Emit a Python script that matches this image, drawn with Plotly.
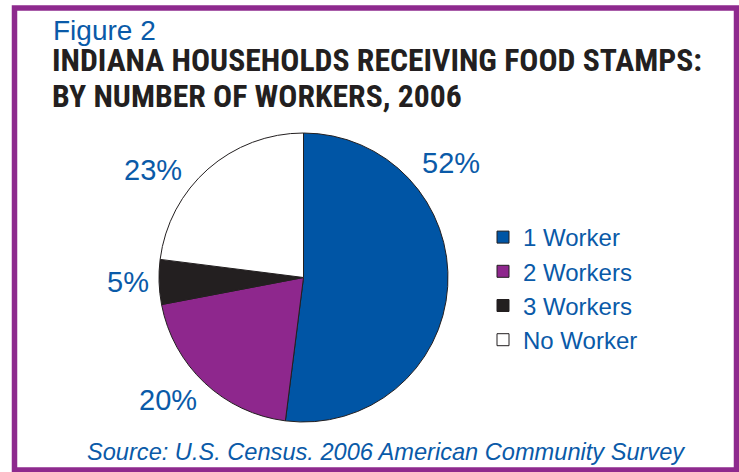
import plotly.graph_objects as go

# data
categories = ['1 Worker', '2 Workers', '3 Workers', 'No Worker']
shares = [52, 20, 5, 23]
slice_colors = ['#0055a5', '#8e278d', '#231f20', '#ffffff']

title_lines = ['INDIANA HOUSEHOLDS RECEIVING FOOD STAMPS:', 'BY NUMBER OF WORKERS, 2006']
source_note = 'Source: U.S. Census. 2006 American Community Survey'

# label centres, in reference pixels
label_pos = [(451, 163), (168, 400), (128, 282), (153, 170)]

BLUE = '#0a5aa8'
PURPLE = '#8e2a8e'
W, H = 739, 472


def px(x):
    return x / W


def py(y):
    return 1 - y / H


fig = go.Figure()

fig.add_trace(go.Pie(
    labels=categories,
    values=shares,
    sort=False,
    direction='clockwise',
    rotation=0,
    marker=dict(colors=slice_colors, line=dict(color='#231f20', width=1)),
    textinfo='none',
    hoverinfo='label+percent',
    domain=dict(x=[px(158), px(449)], y=[py(422), py(133)]),
))

annotations = []
for v, (x, y) in zip(shares, label_pos):
    annotations.append(dict(
        x=px(x), y=py(y), xref='paper', yref='paper', xanchor='center', yanchor='middle',
        text=f'{v}%', showarrow=False,
        font=dict(family='Liberation Sans, Arial, sans-serif', size=29, color=BLUE),
    ))

# headings
annotations.append(dict(
    x=px(51), y=py(13), xref='paper', yref='paper', xanchor='left', yanchor='top',
    text='Figure 2', showarrow=False,
    font=dict(family='Liberation Sans, Arial, sans-serif', size=28, color=BLUE),
))
for line, top in zip(title_lines, [40, 76]):
    annotations.append(dict(
        x=px(50), y=py(top), xref='paper', yref='paper', xanchor='left', yanchor='top',
        text=f'<b>{line}</b>', showarrow=False,
        font=dict(family='Roboto Condensed, Liberation Sans', size=31.7, color='#231f20'),
    ))
annotations.append(dict(
    x=px(386), y=py(452), xref='paper', yref='paper', xanchor='center', yanchor='middle',
    text=f'<i>{source_note}</i>', showarrow=False,
    font=dict(family='Liberation Sans, Arial, sans-serif', size=23.6, color=BLUE),
))

fig.update_layout(
    width=W, height=H,
    margin=dict(l=0, r=0, t=0, b=0),
    paper_bgcolor='white',
    plot_bgcolor='white',
    showlegend=True,
    legend=dict(
        x=px(483), y=py(215), xanchor='left', yanchor='top',
        font=dict(family='Liberation Sans, Arial, sans-serif', size=24, color=BLUE),
        bgcolor='rgba(0,0,0,0)', itemclick=False, itemdoubleclick=False,
    ),
    annotations=annotations,
    shapes=[dict(
        type='rect', xref='paper', yref='paper',
        x0=px(14.5), x1=px(736.5), y0=py(470), y1=py(8),
        line=dict(color=PURPLE, width=5.5),
    )],
)

# drop the browser's default 8px body margin so the figure fills the window
fig.write_html('out.html', config={'displayModeBar': False},
               post_script="document.body.style.margin='0';")
